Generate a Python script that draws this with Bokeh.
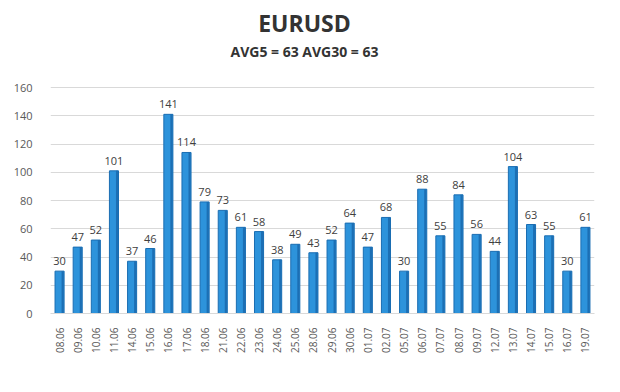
from bokeh.plotting import figure
from bokeh.models import ColumnDataSource, Range1d, FactorRange, Label, LabelSet, FixedTicker
from bokeh.transform import dodge
from bokeh.core.properties import value
from bokeh.embed import file_html
from bokeh.resources import INLINE

dates = ["08.06", "09.06", "10.06", "11.06", "14.06", "15.06", "16.06", "17.06", "18.06", "21.06",
         "22.06", "23.06", "24.06", "25.06", "28.06", "29.06", "30.06", "01.07", "02.07", "05.07",
         "06.07", "07.07", "08.07", "09.07", "12.07", "13.07", "14.07", "15.07", "16.07", "19.07"]
volatility = [30, 47, 52, 101, 37, 46, 141, 114, 79, 73,
              61, 58, 38, 49, 43, 52, 64, 47, 68, 30,
              88, 55, 84, 56, 44, 104, 63, 55, 30, 61]
y_ticks = [0, 20, 40, 60, 80, 100, 120, 140, 160]
title_text = "EURUSD"
subtitle_text = "AVG5 = 63 AVG30 = 63"

src = ColumnDataSource(dict(x=dates, y=volatility, lbl=[str(v) for v in volatility]))

FONT = "Open Sans"

# frame spans the full height above the axis; the extra room above 160 holds the titles
FRAME_H = 313
y_top = y_ticks[-1] * FRAME_H / 226.0

p = figure(width=604, height=376, x_range=FactorRange(*dates, range_padding=0),
           y_range=Range1d(0, y_top), output_backend="svg", toolbar_location=None,
           min_border_left=50, min_border_right=10, min_border_top=0, min_border_bottom=63)
p.title.text = ""
p.outline_line_color = None
p.background_fill_color = "white"

# bars: main face and darker side strip
p.vbar(x="x", top="y", width=0.5, source=src, fill_color="#2D93DB", line_color="#1A6DB2", line_width=1)
p.vbar(x=dodge("x", 0.17, range=p.x_range), top="y", width=0.12, source=src,
       fill_color="#1C6FB4", line_color=None)

labels = LabelSet(x="x", y="y", text="lbl", source=src, y_offset=6, text_align="center",
                  text_font=value(FONT), text_font_size="11px", text_color="#404040")
p.add_layout(labels)

# axes
p.yaxis.ticker = FixedTicker(ticks=y_ticks)
p.yaxis.axis_line_color = None
p.yaxis.major_tick_line_color = None
p.yaxis.minor_tick_line_color = None
p.yaxis.major_label_text_font = FONT
p.yaxis.major_label_text_font_size = "11px"
p.yaxis.major_label_text_color = "#595959"
p.yaxis.major_label_standoff = 12

p.xaxis.axis_line_color = "#D9D9D9"
p.xaxis.major_tick_line_color = None
p.xaxis.minor_tick_line_color = None
p.xaxis.major_label_orientation = 1.5708
p.xaxis.major_label_text_font = FONT
p.xaxis.major_label_text_font_size = "10px"
p.xaxis.major_label_text_color = "#595959"
p.xaxis.major_label_standoff = 8

p.xgrid.grid_line_color = None
p.ygrid.grid_line_color = "#D9D9D9"
p.ygrid.grid_line_width = 1

# titles (screen units relative to the frame, origin bottom-left)
p.add_layout(Label(x=254, y=FRAME_H - 22, x_units="screen", y_units="screen", text=title_text,
                   text_align="center", text_baseline="middle", text_font=FONT,
                   text_font_size="23px", text_font_style="bold", text_color="#333333"))
p.add_layout(Label(x=254, y=FRAME_H - 51, x_units="screen", y_units="screen", text=subtitle_text,
                   text_align="center", text_baseline="middle", text_font=FONT,
                   text_font_size="14px", text_font_style="bold", text_color="#333333"))

open("out.html", "w").write(file_html(p, INLINE))
